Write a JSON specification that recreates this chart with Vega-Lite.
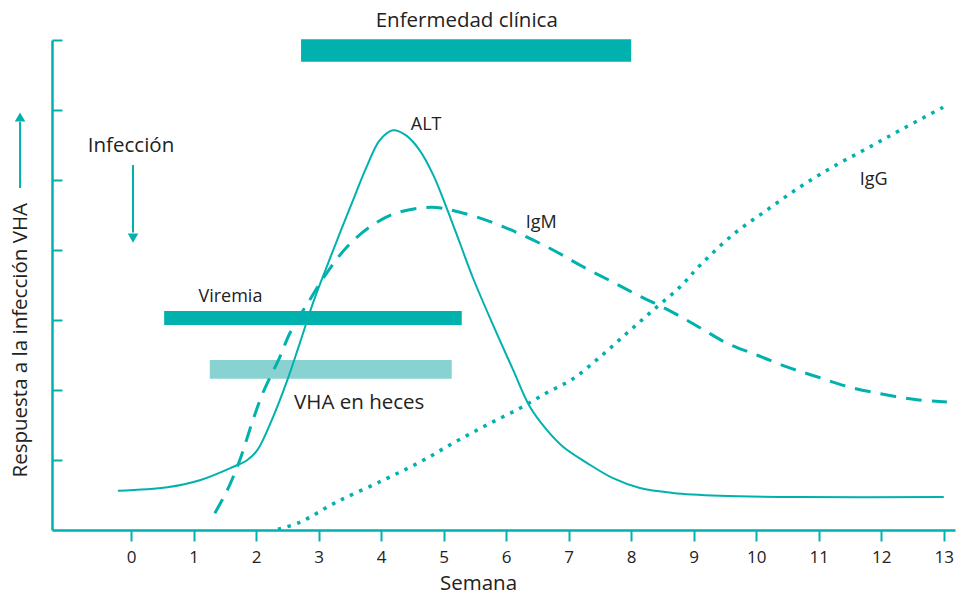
{
  "$schema": "https://vega.github.io/schema/vega-lite/v6.json",
  "width": 903,
  "height": 490,
  "autosize": {"type": "none"},
  "padding": {"left": 52, "top": 40, "right": 1, "bottom": 64},
  "background": "white",
  "config": {"view": {"stroke": null}, "font": "Open Sans"},
  "datasets": {
    "bands": [
      {"name": "Enfermedad clínica", "start": 2.72, "end": 8.0, "low": 6.69, "high": 7.01},
      {"name": "Viremia", "start": 0.53, "end": 5.29, "low": 2.93, "high": 3.13},
      {"name": "VHA en heces", "start": 1.26, "end": 5.13, "low": 2.16, "high": 2.43}
    ],
    "alt": [
      {"x": -0.21, "y": 0.56}, {"x": 0.58, "y": 0.61}, {"x": 1.10, "y": 0.71}, {"x": 1.63, "y": 0.90},
      {"x": 1.86, "y": 1.00}, {"x": 2.02, "y": 1.14}, {"x": 2.27, "y": 1.61}, {"x": 2.50, "y": 2.14},
      {"x": 2.70, "y": 2.67}, {"x": 2.91, "y": 3.24}, {"x": 3.13, "y": 3.76}, {"x": 3.34, "y": 4.24},
      {"x": 3.55, "y": 4.71}, {"x": 3.77, "y": 5.19}, {"x": 3.98, "y": 5.57}, {"x": 4.19, "y": 5.71},
      {"x": 4.41, "y": 5.63}, {"x": 4.62, "y": 5.42}, {"x": 4.83, "y": 5.08}, {"x": 5.04, "y": 4.62},
      {"x": 5.26, "y": 4.10}, {"x": 5.47, "y": 3.60}, {"x": 5.79, "y": 2.93}, {"x": 6.11, "y": 2.29},
      {"x": 6.38, "y": 1.76}, {"x": 6.65, "y": 1.43}, {"x": 6.91, "y": 1.19}, {"x": 7.29, "y": 0.96},
      {"x": 7.71, "y": 0.74}, {"x": 8.14, "y": 0.60}, {"x": 8.67, "y": 0.53}, {"x": 9.42, "y": 0.49},
      {"x": 10.70, "y": 0.47}, {"x": 13.0, "y": 0.47}
    ],
    "igm": [
      {"x": 1.34, "y": 0.24}, {"x": 1.54, "y": 0.57}, {"x": 1.74, "y": 1.00}, {"x": 1.95, "y": 1.57},
      {"x": 2.11, "y": 1.96}, {"x": 2.38, "y": 2.47}, {"x": 2.54, "y": 2.81}, {"x": 2.86, "y": 3.29},
      {"x": 3.13, "y": 3.67}, {"x": 3.45, "y": 4.04}, {"x": 3.82, "y": 4.33}, {"x": 4.25, "y": 4.53},
      {"x": 4.81, "y": 4.61}, {"x": 5.26, "y": 4.54}, {"x": 5.79, "y": 4.39}, {"x": 6.27, "y": 4.21},
      {"x": 6.75, "y": 4.00}, {"x": 7.23, "y": 3.76}, {"x": 7.71, "y": 3.54}, {"x": 8.14, "y": 3.34},
      {"x": 8.62, "y": 3.13}, {"x": 9.10, "y": 2.89}, {"x": 9.53, "y": 2.67}, {"x": 10.01, "y": 2.50},
      {"x": 10.49, "y": 2.33}, {"x": 10.97, "y": 2.19}, {"x": 11.50, "y": 2.04}, {"x": 12.03, "y": 1.94},
      {"x": 12.57, "y": 1.86}, {"x": 13.05, "y": 1.83}
    ],
    "igg": [
      {"x": 2.35, "y": 0.01}, {"x": 2.70, "y": 0.11}, {"x": 3.29, "y": 0.40}, {"x": 4.03, "y": 0.71},
      {"x": 4.62, "y": 0.97}, {"x": 5.15, "y": 1.24}, {"x": 5.69, "y": 1.50}, {"x": 6.22, "y": 1.74},
      {"x": 6.65, "y": 1.96}, {"x": 7.07, "y": 2.16}, {"x": 7.50, "y": 2.47}, {"x": 7.93, "y": 2.81},
      {"x": 8.35, "y": 3.14}, {"x": 8.78, "y": 3.47}, {"x": 9.10, "y": 3.78}, {"x": 9.63, "y": 4.22},
      {"x": 10.17, "y": 4.57}, {"x": 10.70, "y": 4.90}, {"x": 11.23, "y": 5.19}, {"x": 11.77, "y": 5.45},
      {"x": 12.30, "y": 5.71}, {"x": 12.99, "y": 6.04}
    ],
    "arrowLines": [
      {"x": -1.775, "y": 4.886, "y2": 5.83},
      {"x": 0.032, "y": 5.214, "y2": 4.25}
    ],
    "arrowHeads": [
      {"x": -1.775, "y": 5.9, "dir": "up"},
      {"x": 0.032, "y": 4.17, "dir": "down"}
    ],
    "labelsLarge": [
      {"label": "Enfermedad clínica", "x": 5.37, "y": 7.19},
      {"label": "Infección", "x": 0.0, "y": 5.40},
      {"label": "VHA en heces", "x": 3.65, "y": 1.73}
    ],
    "labelsSmall": [
      {"label": "Viremia", "x": 1.59, "y": 3.26},
      {"label": "ALT", "x": 4.72, "y": 5.71},
      {"label": "IgM", "x": 6.56, "y": 4.32},
      {"label": "IgG", "x": 11.88, "y": 4.93}
    ]
  },
  "layer": [
    {
      "data": {"name": "bands"},
      "mark": {"type": "rect"},
      "encoding": {
        "x": {
          "field": "start", "type": "quantitative",
          "scale": {"domain": [-1.264, 13.18], "nice": false, "zero": false},
          "axis": {
            "values": [0, 1, 2, 3, 4, 5, 6, 7, 8, 9, 10, 11, 12, 13],
            "format": "d",
            "grid": false,
            "tickSize": 11, "tickWidth": 2, "tickColor": "#00b1ae",
            "domainColor": "#00b1ae", "domainWidth": 2.5,
            "labelFontSize": 17, "labelColor": "#222222", "labelPadding": 8, "labelFont": "Open Sans",
            "title": "Semana", "titleFontSize": 20.5, "titleFontWeight": "normal", "titleColor": "#222222",
            "titleFont": "Open Sans", "titleAnchor": null, "titleAlign": "center", "titleBaseline": "alphabetic",
            "titleX": 426, "titleY": 59
          }
        },
        "x2": {"field": "end"},
        "y": {
          "field": "low", "type": "quantitative",
          "scale": {"domain": [0, 7], "nice": false, "zero": false},
          "axis": {
            "values": [1, 2, 3, 4, 5, 6, 7],
            "grid": false, "labels": false,
            "tickSize": -10, "tickWidth": 2, "tickColor": "#00b1ae",
            "domainColor": "#00b1ae", "domainWidth": 2.5,
            "title": "Respuesta a la infección VHA", "titleFontSize": 20.5, "titleFontWeight": "normal",
            "titleColor": "#222222", "titleFont": "Open Sans", "titleAngle": 270, "titleAnchor": null,
            "titleAlign": "left", "titleBaseline": "alphabetic", "titleX": -26, "titleY": 437
          }
        },
        "y2": {"field": "high"},
        "color": {
          "field": "name", "type": "nominal",
          "scale": {"domain": ["Enfermedad clínica", "Viremia", "VHA en heces"], "range": ["#00b1ae", "#00b1ae", "#88d2d2"]},
          "legend": null
        }
      }
    },
    {
      "data": {"name": "alt"},
      "mark": {"type": "line", "interpolate": "catmull-rom", "color": "#00b1ae", "strokeWidth": 2},
      "encoding": {"x": {"field": "x", "type": "quantitative"}, "y": {"field": "y", "type": "quantitative"}}
    },
    {
      "data": {"name": "igm"},
      "mark": {"type": "line", "interpolate": "catmull-rom", "color": "#00b1ae", "strokeWidth": 3, "strokeDash": [16, 10]},
      "encoding": {"x": {"field": "x", "type": "quantitative"}, "y": {"field": "y", "type": "quantitative"}}
    },
    {
      "data": {"name": "igg"},
      "mark": {"type": "line", "interpolate": "catmull-rom", "color": "#00b1ae", "strokeWidth": 3.5, "strokeDash": [3.5, 6.5]},
      "encoding": {"x": {"field": "x", "type": "quantitative"}, "y": {"field": "y", "type": "quantitative"}}
    },
    {
      "data": {"name": "arrowLines"},
      "mark": {"type": "rule", "color": "#00b1ae", "strokeWidth": 2},
      "encoding": {"x": {"field": "x", "type": "quantitative"}, "y": {"field": "y", "type": "quantitative"}, "y2": {"field": "y2"}}
    },
    {
      "data": {"name": "arrowHeads"},
      "mark": {"type": "point", "filled": true, "opacity": 1, "size": 110, "color": "#00b1ae"},
      "encoding": {
        "x": {"field": "x", "type": "quantitative"},
        "y": {"field": "y", "type": "quantitative"},
        "shape": {"field": "dir", "type": "nominal", "scale": {"domain": ["up", "down"], "range": ["triangle-up", "triangle-down"]}, "legend": null}
      }
    },
    {
      "data": {"name": "labelsLarge"},
      "mark": {"type": "text", "font": "Open Sans", "fontSize": 20.5, "color": "#222222", "align": "center", "baseline": "alphabetic"},
      "encoding": {"x": {"field": "x", "type": "quantitative"}, "y": {"field": "y", "type": "quantitative"}, "text": {"field": "label"}}
    },
    {
      "data": {"name": "labelsSmall"},
      "mark": {"type": "text", "font": "Open Sans", "fontSize": 18, "color": "#222222", "align": "center", "baseline": "alphabetic"},
      "encoding": {"x": {"field": "x", "type": "quantitative"}, "y": {"field": "y", "type": "quantitative"}, "text": {"field": "label"}}
    }
  ]
}
